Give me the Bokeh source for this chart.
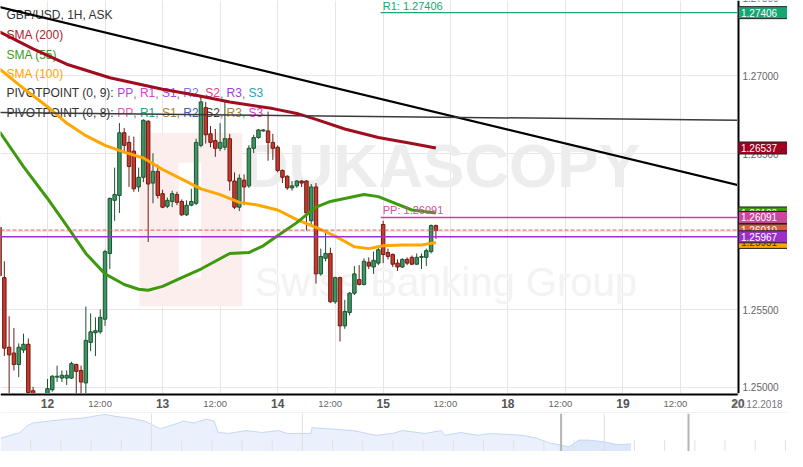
from bokeh.plotting import figure
from bokeh.models import (Range1d, FixedTicker, Label, Span, BoxAnnotation, ColumnDataSource)
from bokeh.layouts import column, row
from bokeh.embed import file_html
from bokeh.resources import INLINE
from bokeh.core.properties import value

FONT = "Liberation Sans"

# ---------------- data (hour index: 0 = 12 Dec 00:00) ----------------
hours = list(range(-10, 82))
opens = [1.26027, 1.25705, 1.25258, 1.25221, 1.25147, 1.25240, 1.25277, 1.24979, 1.24930, 1.24880,
         1.24911, 1.24985, 1.25066, 1.25060, 1.25060, 1.25060, 1.25147, 1.25109, 1.25029, 1.25289,
         1.25351, 1.25357, 1.25438, 1.25860, 1.26201, 1.26232, 1.26635, 1.26573, 1.26517, 1.26287,
         1.26349, 1.26709, 1.26312, 1.26387, 1.26244, 1.26163, 1.26194, 1.26238, 1.26194, 1.26108,
         1.26170, 1.26182, 1.26554, 1.26796, 1.26628, 1.26585, 1.26535, 1.26542, 1.26597, 1.26325,
         1.26157, 1.26331, 1.26294, 1.26535, 1.26604, 1.26647, 1.26647, 1.26573, 1.26542, 1.26393,
         1.26356, 1.26281, 1.26294, 1.26325, 1.26325, 1.26070, 1.26287, 1.25729, 1.25829, 1.25860,
         1.25550, 1.25705, 1.25395, 1.25481, 1.25605, 1.25692, 1.25661, 1.25804, 1.25773, 1.25798,
         1.26046, 1.25866, 1.25853, 1.25798, 1.25773, 1.25822, 1.25835, 1.25791, 1.25835, 1.25835,
         1.25872, 1.26039]
highs = [1.26108, 1.25810, 1.25457, 1.25382, 1.25283, 1.25345, 1.25314, 1.25004, 1.24948, 1.24930,
         1.25054, 1.25078, 1.25140, 1.25109, 1.25109, 1.25165, 1.25153, 1.25140, 1.25519, 1.25475,
         1.25450, 1.25500, 1.25884, 1.26219, 1.26411, 1.26697, 1.26666, 1.26616, 1.26610, 1.26411,
         1.26721, 1.26715, 1.26504, 1.26430, 1.26269, 1.26219, 1.26263, 1.26256, 1.26207, 1.26201,
         1.26275, 1.26597, 1.26876, 1.26833, 1.26678, 1.26659, 1.26697, 1.26833, 1.26628, 1.26380,
         1.26368, 1.26368, 1.26554, 1.26622, 1.26659, 1.26659, 1.26771, 1.26628, 1.26554, 1.26399,
         1.26362, 1.26325, 1.26331, 1.26331, 1.26331, 1.26306, 1.26312, 1.25891, 1.26002, 1.25897,
         1.25711, 1.25711, 1.25562, 1.25612, 1.25779, 1.25785, 1.25829, 1.25835, 1.25872, 1.25897,
         1.26070, 1.25891, 1.25860, 1.25822, 1.25829, 1.25835, 1.25847, 1.25860, 1.25860, 1.25891,
         1.26046, 1.26046]
lows = [1.25686, 1.25202, 1.24954, 1.25109, 1.25066, 1.25221, 1.24954, 1.24911, 1.24849, 1.24830,
        1.24892, 1.24973, 1.25035, 1.25035, 1.25016, 1.25054, 1.24954, 1.24954, 1.24954, 1.25233,
        1.25202, 1.25345, 1.25395, 1.25760, 1.26070, 1.26120, 1.26504, 1.26287, 1.26256, 1.26256,
        1.26318, 1.25934, 1.26182, 1.26213, 1.26151, 1.26151, 1.26157, 1.26170, 1.26101, 1.26101,
        1.26163, 1.26170, 1.26542, 1.26566, 1.26542, 1.26480, 1.26517, 1.26523, 1.26263, 1.26145,
        1.26132, 1.26170, 1.26281, 1.26504, 1.26597, 1.26641, 1.26455, 1.26461, 1.26380, 1.26312,
        1.26269, 1.26263, 1.26281, 1.26287, 1.26008, 1.26046, 1.25667, 1.25717, 1.25810, 1.25543,
        1.25537, 1.25295, 1.25376, 1.25463, 1.25593, 1.25655, 1.25655, 1.25760, 1.25729, 1.25785,
        1.25798, 1.25822, 1.25773, 1.25748, 1.25767, 1.25785, 1.25785, 1.25785, 1.25760, 1.25779,
        1.25860, 1.25953]
closes = [1.25717, 1.25252, 1.25209, 1.25147, 1.25258, 1.25277, 1.24967, 1.24930, 1.24880, 1.24911,
          1.24992, 1.25072, 1.25072, 1.25078, 1.25078, 1.25153, 1.25103, 1.25035, 1.25302, 1.25357,
          1.25364, 1.25450, 1.25872, 1.26213, 1.26238, 1.26635, 1.26554, 1.26418, 1.26275, 1.26349,
          1.26715, 1.26306, 1.26387, 1.26232, 1.26157, 1.26201, 1.26244, 1.26188, 1.26108, 1.26170,
          1.26194, 1.26573, 1.26833, 1.26622, 1.26573, 1.26535, 1.26573, 1.26597, 1.26325, 1.26157,
          1.26343, 1.26287, 1.26535, 1.26604, 1.26653, 1.26653, 1.26573, 1.26535, 1.26393, 1.26349,
          1.26281, 1.26294, 1.26325, 1.26312, 1.26120, 1.26287, 1.25729, 1.25841, 1.25860, 1.25550,
          1.25705, 1.25395, 1.25488, 1.25605, 1.25729, 1.25661, 1.25810, 1.25779, 1.25816, 1.25884,
          1.25853, 1.25841, 1.25791, 1.25773, 1.25822, 1.25798, 1.25791, 1.25835, 1.25841, 1.25878,
          1.26039, 1.26008]

sma200_h = [-10, -3, 4, 13, 24, 31, 38, 47, 52, 56, 62, 69, 76, 81]
sma200 = [1.27283, 1.27174, 1.27075, 1.26988, 1.26914, 1.26876, 1.26833, 1.26790, 1.26759,
          1.26721, 1.26659, 1.26604, 1.26566, 1.26537]
sma55_h = [-10, -5, 0, 4, 8, 12, 16, 19, 21, 24, 28, 32, 35, 38, 42, 45, 47, 52, 56, 59, 62, 66,
           69, 72, 76, 81]
sma55 = [1.26641, 1.26418, 1.26213, 1.26039, 1.25860, 1.25729, 1.25661, 1.25630, 1.25624, 1.25649,
         1.25705, 1.25760, 1.25810, 1.25860, 1.25866, 1.25909, 1.25953, 1.26058, 1.26157, 1.26194,
         1.26213, 1.26238, 1.26225, 1.26188, 1.26139, 1.26120]
sma100_h = [-10, -5, 0, 4, 8, 12, 16, 20, 24, 28, 32, 36, 40, 44, 48, 52, 56, 60, 64, 67, 70, 74,
            78, 81]
sma100 = [1.27044, 1.26920, 1.26802, 1.26697, 1.26616, 1.26554, 1.26511, 1.26473, 1.26399, 1.26337,
          1.26275, 1.26238, 1.26188, 1.26170, 1.26139, 1.26077, 1.26027, 1.25971, 1.25903, 1.25891,
          1.25909, 1.25915, 1.25915, 1.25931]

trend_h = [-10, 144]
trend_p = [1.27442, 1.26299]
level_h = [-10, 144]
level_p = [1.26765, 1.26715]

pivot_start = 69.5
r1_level = 1.27406
pp_level = 1.26091
ask_level = 1.26010
bid_level = 1.25967

y_ticks = [1.250, 1.255, 1.260, 1.265, 1.270, 1.275]
day_ticks = [0, 24, 48, 70, 96, 120]
day_labels = ["12", "13", "14", "15", "18", "19"]
half_ticks = [12, 36, 60, 84, 108, 132]
half_labels = ["12:00"] * 6
end_tick = 144
end_day_label = "20"
end_date_label = "20.12.2018"

nav_day = [0, 0.32, 0.65, 0.88, 1.07, 1.62, 2.18, 2.69, 3.25, 3.47, 3.8, 4.32, 4.77, 5.29, 5.52,
           6.07, 6.4, 6.82, 7.08, 7.21, 7.56, 8.12, 8.67, 9.19, 9.51, 10.29, 10.32, 10.81, 11.69,
           12.44, 12.99, 13.31, 14.06, 14.61, 14.71, 15.26, 15.81, 16.23, 17.31, 17.76, 18.18,
           18.51, 18.83, 19.16, 19.48, 20.03, 20.45, 20.88]
nav_price = [1.2500, 1.2530, 1.2560, 1.2630, 1.2660, 1.2680, 1.2700, 1.2710, 1.2740, 1.2750,
             1.2730, 1.2710, 1.2680, 1.2600, 1.2620, 1.2680, 1.2660, 1.2700, 1.2680, 1.2560,
             1.2550, 1.2580, 1.2560, 1.2580, 1.2550, 1.2550, 1.2610, 1.2600, 1.2580, 1.2530,
             1.2550, 1.2580, 1.2550, 1.2580, 1.2530, 1.2560, 1.2530, 1.2550, 1.2530, 1.2500,
             1.2450, 1.2430, 1.2410, 1.2480, 1.2480, 1.2460, 1.2430, 1.2440]
nav_window = [18.57, 22.79]
nav_week_days = [5, 10, 20]

# ---------------- layout constants ----------------
FW, FH = 737, 393
AXW, STRIP_H, NAV_H = 50, 20, 38
SX, SY = FW / 753.0, FH / 407.0
X_START, X_END = -9.8, 143.9
Y_LOW, Y_HIGH = 1.24961, 1.27484


def sx(px):
    return px * SX


def sy(py):
    return FH - py * SY


def clean(fig):
    fig.outline_line_color = None
    fig.background_fill_color = "white"
    fig.border_fill_color = "white"


# ---------------- main price panel ----------------
p = figure(frame_width=FW, frame_height=FH, x_range=Range1d(X_START, X_END),
           y_range=Range1d(Y_LOW, Y_HIGH), output_backend="svg", toolbar_location=None,
           x_axis_location=None, y_axis_location=None, min_border=0)
clean(p)
p.xgrid.ticker = FixedTicker(ticks=sorted(day_ticks + half_ticks + [end_tick]))
p.ygrid.ticker = FixedTicker(ticks=y_ticks)
p.grid.grid_line_color = "#e6e6e6"
p.grid.grid_line_width = 1

# watermark
p.add_layout(BoxAnnotation(left=sx(142), right=sx(247), top=sy(137), bottom=sy(317),
                           left_units="screen", right_units="screen", top_units="screen",
                           bottom_units="screen", fill_color="#fdeeee", fill_alpha=1,
                           line_color=None, level="underlay"))
p.add_layout(BoxAnnotation(left=sx(182), right=sx(205), top=sy(168), bottom=sy(287),
                           left_units="screen", right_units="screen", top_units="screen",
                           bottom_units="screen", fill_color="white", fill_alpha=1,
                           line_color=None, level="underlay"))
p.add_layout(Label(x=sx(451), y=sy(171), x_units="screen", y_units="screen", text="DUKASCOPY",
                   text_font=FONT, text_font_style="bold", text_font_size="62px",
                   text_color="#ededed", text_align="center", text_baseline="middle",
                   level="underlay"))
p.add_layout(Label(x=sx(455), y=sy(292), x_units="screen", y_units="screen",
                   text="Swiss Banking Group", text_font=FONT, text_font_size="40px",
                   text_color="#f3f3f3", text_align="center", text_baseline="middle",
                   level="underlay"))

# legend texts
W = {'P': .667, 'I': .278, 'V': .667, 'O': .778, 'T': .611, 'N': .722, ' ': .278, '(': .333,
     ')': .333, '0': .556, '8': .556, '9': .556, ',': .278, ':': .278, 'R': .722, 'S': .667,
     '1': .556, '2': .556, '3': .556}


def tw(s, size=12):
    return sum(W.get(ch, 0.556) for ch in s) * size


def legend_label(x, py, text, color):
    p.add_layout(Label(x=x, y=sy(py), x_units="screen", y_units="screen", text=text,
                       text_font=FONT, text_font_size="12px", text_color=color,
                       text_align="left", text_baseline="middle", level="underlay"))


legend_label(6, 15, "GBP/USD, 1H, ASK", "#333333")
legend_label(6, 36, "SMA (200)", "#b0202c")
legend_label(6, 56, "SMA (55)", "#3d9b13")
legend_label(6, 76, "SMA (100)", "#ffa500")

tokens = ["PP", "R1", "S1", "R2", "S2", "R3", "S3"]
row_defs = [
    (96, "PIVOTPOINT (0, 9): ",
     ["#b43fd8", "#e040c8", "#a648e0", "#7a7ae6", "#e0408e", "#a040d8", "#2b9fb8"]),
    (116, "PIVOTPOINT (0, 8): ",
     ["#e35fa8", "#1fa37a", "#a8823c", "#3d5cc0", "#3a3a3a", "#a8823c", "#d63ad6"]),
]
for py, prefix, cols in row_defs:
    legend_label(6, py, prefix, "#333333")
    x = 6 + tw(prefix)
    for i, (tok, col) in enumerate(zip(tokens, cols)):
        legend_label(x, py, tok, col)
        x += tw(tok)
        if i < len(tokens) - 1:
            legend_label(x, py, ",", "#777777")
            x += tw(", ")

# candles
tops = [max(o, c) for o, c in zip(opens, closes)]
bots = [min(o, c) for o, c in zip(opens, closes)]
ups = [c >= o for o, c in zip(opens, closes)]
src = ColumnDataSource(dict(
    h=hours, hi=highs, lo=lows, top=tops, bot=bots,
    fill=["#3d9560" if u else "#c43a2c" for u in ups],
    edge=["#1b5131" if u else "#6e1a12" for u in ups],
))
p.segment(x0="h", y0="hi", x1="h", y1="lo", line_color="edge", line_width=1, source=src)
p.vbar(x="h", width=0.72, top="top", bottom="bot", fill_color="fill", line_color="edge",
       line_width=1, source=src)

# indicators
p.line(sma200_h, sma200, line_color="#a00d1f", line_width=3, line_join="round")
p.line(sma100_h, sma100, line_color="#ffa600", line_width=3, line_join="round")
p.line(sma55_h, sma55, line_color="#3c9a0c", line_width=3, line_join="round")

p.line(trend_h, trend_p, line_color="black", line_width=2)
p.line(level_h, level_p, line_color="#3a3a3a", line_width=1.5)

p.segment(x0=[pivot_start], y0=[r1_level], x1=[X_END], y1=[r1_level],
          line_color="#19a974", line_width=1.2)
p.segment(x0=[pivot_start], y0=[pp_level], x1=[X_END], y1=[pp_level],
          line_color="#d03c9c", line_width=1.3)
p.text(x=[pivot_start, pivot_start], y=[r1_level, pp_level],
       text=[f"R1: {r1_level:.5f}", f"PP: {pp_level:.5f}"],
       text_color=["#19a974", "#d050a0"], text_font=value(FONT), text_font_size="11px",
       text_baseline="bottom", text_align="left", x_offset=2, y_offset=-1)

p.add_layout(Span(location=ask_level, dimension="width", line_color="#d8574a", line_width=1,
                  line_dash="4 2"))
p.add_layout(Span(location=bid_level, dimension="width", line_color="#9b30d0", line_width=1.5))

# ---------------- right price axis panel ----------------
ax = figure(frame_width=AXW, frame_height=FH, x_range=Range1d(0, AXW), y_range=p.y_range,
            output_backend="svg", toolbar_location=None, x_axis_location=None,
            y_axis_location=None, min_border=0)
clean(ax)
ax.grid.visible = False
ax.text(x=[5] * len(y_ticks), y=y_ticks, text=[f"{t:.5f}" for t in y_ticks],
        text_font=value(FONT), text_font_size="10px", text_color="#666666",
        text_baseline="middle", text_align="left")
ax.segment(x0=[0], y0=[Y_LOW], x1=[0], y1=[Y_HIGH], line_color="black", line_width=4)

boxes = [
    (sma55[-1], "#3c9a0c", "white"),
    (sma100[-1], "#ffa500", "#333333"),
    (ask_level, "#e0573f", "white"),
    (pp_level, "#c9489a", "white"),
    (bid_level, "#9b2fc9", "white"),
    (sma200[-1], "#a10020", "white"),
    (r1_level, "#17a673", "white"),
]
for val, bg, fg in boxes:
    ax.rect(x=[AXW / 2 + 0.5], y=[val], width=[AXW - 1], height=[12], height_units="screen",
            fill_color=bg, line_color="#222222", line_width=1)
    ax.text(x=[3.5], y=[val], text=[f"{val:.5f}"], text_font=value(FONT),
            text_font_size="10px", text_color=fg, text_baseline="middle", text_align="left")

# ---------------- time axis strip ----------------
full_end = X_START + (X_END - X_START) * (FW + AXW) / FW
st = figure(frame_width=FW + AXW, frame_height=STRIP_H, x_range=Range1d(X_START, full_end),
            y_range=Range1d(0, STRIP_H), output_backend="svg", toolbar_location=None,
            x_axis_location=None, y_axis_location=None, min_border=0)
clean(st)
st.grid.visible = False
st.segment(x0=[X_START], y0=[STRIP_H], x1=[X_END], y1=[STRIP_H], line_color="black",
           line_width=4)
st.segment(x0=[X_END], y0=[STRIP_H - 1], x1=[X_END], y1=[STRIP_H], line_color="black",
           line_width=2)
st.segment(x0=[X_START], y0=[0], x1=[full_end], y1=[0], line_color="#e6e6e6", line_width=2)
st.text(x=day_ticks + [end_tick], y=[STRIP_H / 2] * (len(day_ticks) + 1),
        text=day_labels + [end_day_label], text_font=value(FONT), text_font_size="12px",
        text_font_style="bold", text_color="#555555", text_align="center",
        text_baseline="middle")
st.text(x=half_ticks, y=[STRIP_H / 2] * len(half_ticks), text=half_labels,
        text_font=value(FONT), text_font_size="9.5px", text_color="#666666",
        text_align="center", text_baseline="middle", x_offset=-5)
date_x = X_START + (X_END - X_START) * (FW + 45) / FW
st.text(x=[date_x], y=[STRIP_H / 2], text=[end_date_label], text_font=value(FONT),
        text_font_size="10px", text_color="#777777", text_align="right",
        text_baseline="middle")

# ---------------- navigator ----------------
NAV_LOW, NAV_HIGH = 1.2360, 1.2760
nav = figure(frame_width=FW + AXW, frame_height=NAV_H, x_range=Range1d(0, 26.07),
             y_range=Range1d(NAV_LOW, NAV_HIGH), output_backend="svg", toolbar_location=None,
             x_axis_location=None, y_axis_location=None, min_border=0)
clean(nav)
nav.grid.visible = False

nav.varea(x=nav_day, y1=[NAV_LOW] * len(nav_day), y2=nav_price, fill_color="#eaf1fc")
sel = [(d, v) for d, v in zip(nav_day, nav_price) if d >= nav_window[0] - 0.1]
nav.varea(x=[d for d, _ in sel], y1=[NAV_LOW] * len(sel), y2=[v for _, v in sel],
          fill_color="#dce7f9")
nav.line(nav_day, nav_price, line_color="#c4d7f4", line_width=1)
day_marks = list(range(1, 27))
nav.segment(x0=day_marks, y0=[NAV_LOW] * len(day_marks), x1=day_marks,
            y1=[NAV_LOW + 0.012] * len(day_marks), line_color="#e0e0e0", line_width=1)
nav.segment(x0=nav_week_days, y0=[NAV_LOW] * len(nav_week_days), x1=nav_week_days,
            y1=[NAV_HIGH] * len(nav_week_days), line_color="#e0e0e0", line_width=1)
nav.segment(x0=nav_window, y0=[NAV_LOW] * 2, x1=nav_window, y1=[NAV_HIGH] * 2,
            line_color="#b5b5b5", line_width=2)

layout = column(row(p, ax, spacing=0), st, nav, spacing=0)
open("out.html", "w").write(file_html(layout, INLINE))
